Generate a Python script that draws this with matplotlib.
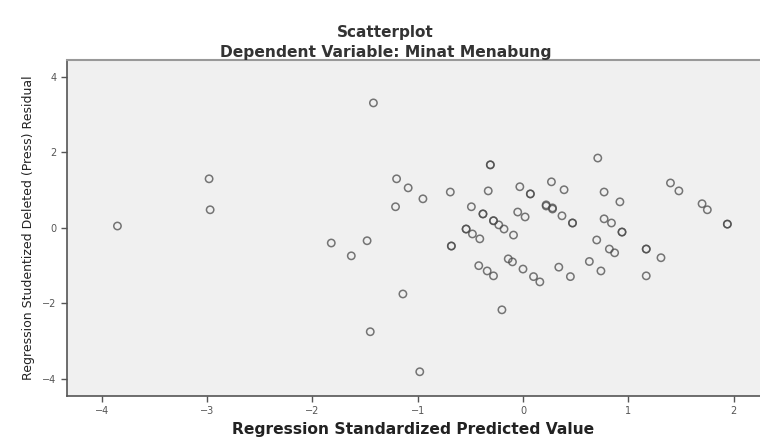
import matplotlib
matplotlib.use("Agg")
import matplotlib.pyplot as plt

# Regression standardized predicted value (x) vs studentized deleted residual (y)
pred = [-3.85, -2.98, -2.97, -1.42, -1.82, -1.48, -1.63, -1.45, -1.20, -1.21,
        -1.14, -0.98, -1.09, -0.95, -0.69, -0.31, -0.31, -0.33, -0.49, -0.38,
        -0.38, -0.28, -0.28, -0.23, -0.18, -0.09, -0.54, -0.54, -0.48, -0.41,
        -0.68, -0.68, -0.03, 0.07, 0.07, -0.05, 0.02, 0.27, 0.39, 0.22,
        0.22, 0.28, 0.28, 0.37, 0.47, 0.47, 0.71, 0.77, 0.92, 0.77,
        0.84, 0.94, 0.94, 0.70, 0.82, 0.87, 1.17, 1.17, 1.31, 1.40,
        1.48, 1.70, 1.75, 1.94, 1.94, -0.14, -0.10, -0.42, -0.34, -0.28,
        0.00, 0.10, 0.16, 0.34, 0.45, 0.63, 0.74, 1.17, -0.20]
resid = [0.05, 1.30, 0.48, 3.31, -0.40, -0.34, -0.74, -2.75, 1.30, 0.56,
         -1.75, -3.81, 1.06, 0.77, 0.95, 1.67, 1.67, 0.98, 0.56, 0.37,
         0.37, 0.19, 0.19, 0.08, -0.03, -0.19, -0.03, -0.03, -0.16, -0.29,
         -0.48, -0.48, 1.09, 0.90, 0.90, 0.42, 0.29, 1.22, 1.01, 0.61,
         0.58, 0.50, 0.53, 0.32, 0.13, 0.13, 1.85, 0.95, 0.69, 0.24,
         0.13, -0.11, -0.11, -0.32, -0.56, -0.66, -0.56, -0.56, -0.79, 1.19,
         0.98, 0.64, 0.48, 0.10, 0.10, -0.82, -0.90, -1.00, -1.14, -1.27,
         -1.09, -1.29, -1.43, -1.04, -1.29, -0.89, -1.14, -1.27, -2.17]

x_ticks = [-4, -3, -2, -1, 0, 1, 2]
y_ticks = [-4, -2, 0, 2, 4]

fig = plt.figure(figsize=(7.6, 4.37), dpi=100)
ax = fig.add_axes([0.088, 0.094, 0.912, 0.769])
ax.set_facecolor('#f0f0f0')

ax.scatter(pred, resid, s=28, facecolors='none', edgecolors='#4a4a4a',
           linewidths=1.1, alpha=0.75)

ax.set_xlim(-4.33, 2.25)
ax.set_ylim(-4.45, 4.45)
ax.set_xticks(x_ticks)
ax.set_yticks(y_ticks)
ax.tick_params(labelsize=7, colors='#555555', length=4, width=1)

for side in ['left', 'bottom']:
    ax.spines[side].set_color('#555555')
    ax.spines[side].set_linewidth(1.2)
ax.spines['top'].set_color('#999999')
ax.spines['top'].set_linewidth(1.5)
ax.spines['right'].set_visible(False)

ax.set_xlabel('Regression Standardized Predicted Value', fontsize=11.2,
              fontweight='bold', color='#222222', labelpad=4)
ax.set_ylabel('Regression Studentized Deleted (Press) Residual', fontsize=9,
              color='#222222', labelpad=5)

fig.text(0.507, 0.925, 'Scatterplot', ha='center', va='center',
         fontsize=11, fontweight='bold', color='#333333')
fig.text(0.507, 0.88, 'Dependent Variable: Minat Menabung', ha='center',
         va='center', fontsize=11.2, fontweight='bold', color='#333333')

plt.savefig('out.png', dpi=100)
